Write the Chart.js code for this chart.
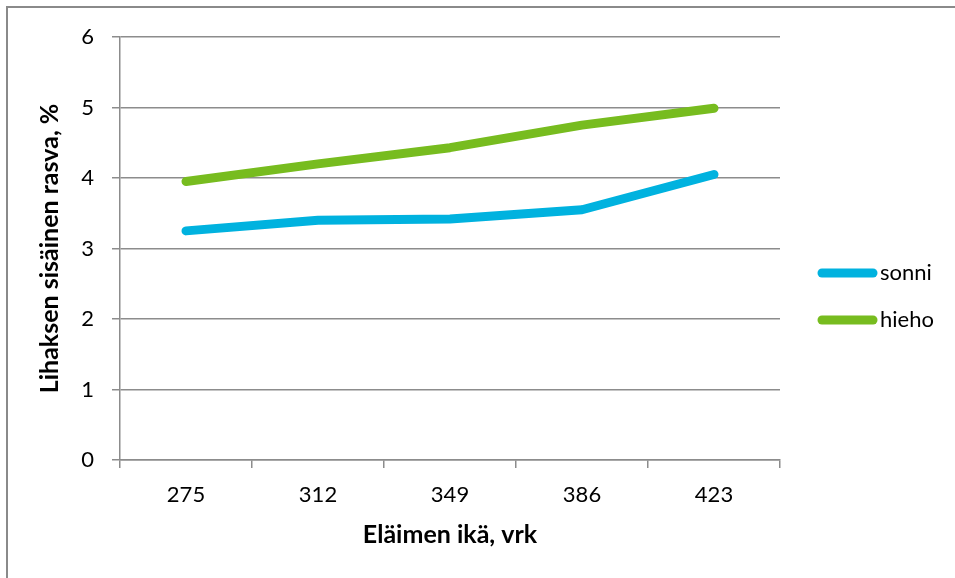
<!DOCTYPE html>
<html>
<head>
<meta charset="utf-8">
<title>Lihaksen sisäinen rasva</title>
<script src="https://cdn.jsdelivr.net/npm/chart.js@4"></script>
<style>
  html, body { margin: 0; padding: 0; background: #fff; }
  #wrap { position: relative; width: 955px; height: 578px; }
</style>
</head>
<body>
<div id="wrap"><canvas id="rasva-chart"></canvas></div>
<script>
// Ikä vuorokausina
const ages = ['275', '312', '349', '386', '423'];
// Lihaksen sisäinen rasva, %
const sonni = [3.25, 3.40, 3.42, 3.55, 4.05];
const hieho = [3.95, 4.20, 4.43, 4.75, 4.99];

const FONT = 'Lato, "Open Sans", sans-serif';
const GRID = '#8c8c8c';

// kehys vasemmalle ja ylös
const framePlugin = {
  id: 'frame',
  beforeDraw(chart) {
    const ctx = chart.ctx;
    ctx.save();
    ctx.strokeStyle = '#8a8a8a';
    ctx.lineWidth = 2;
    ctx.beginPath();
    ctx.moveTo(7, chart.height);
    ctx.lineTo(7, 7);
    ctx.lineTo(chart.width, 7);
    ctx.stroke();
    ctx.restore();
  }
};

// selite oikealla: viiva + nimi
const sideLegend = {
  id: 'sideLegend',
  afterDraw(chart, args, opts) {
    const ctx = chart.ctx;
    ctx.save();
    ctx.font = opts.font;
    ctx.textBaseline = 'middle';
    chart.data.datasets.forEach((ds, i) => {
      const y = opts.top + i * opts.step;
      ctx.strokeStyle = ds.borderColor;
      ctx.lineWidth = ds.borderWidth;
      ctx.lineCap = 'round';
      ctx.beginPath();
      ctx.moveTo(opts.x, y);
      ctx.lineTo(opts.x + opts.lineLen, y);
      ctx.stroke();
      ctx.fillStyle = '#000';
      ctx.fillText(ds.label, opts.x + opts.lineLen + 7, y);
    });
    ctx.restore();
  }
};

const ctx = document.getElementById('rasva-chart').getContext('2d');

new Chart(ctx, {
  type: 'line',
  data: {
    labels: ages,
    datasets: [
      { label: 'sonni', data: sonni, borderColor: '#00b2df', borderWidth: 9 },
      { label: 'hieho', data: hieho, borderColor: '#77bc1f', borderWidth: 9 }
    ]
  },
  options: {
    responsive: true,
    maintainAspectRatio: false,
    animation: false,
    layout: { padding: { top: 37, right: 175, left: 0, bottom: 0 } },
    elements: {
      point: { radius: 0, hoverRadius: 0 },
      line: { tension: 0, borderCapStyle: 'round', borderJoinStyle: 'round' }
    },
    plugins: {
      legend: { display: false },
      tooltip: { enabled: false },
      sideLegend: { x: 822, top: 273, step: 47, lineLen: 51, font: '22px ' + FONT }
    },
    scales: {
      x: {
        offset: true,
        afterFit: (axis) => { axis.height = 118; },
        grid: {
          offset: true,
          drawOnChartArea: false,
          color: GRID,
          lineWidth: 1.5,
          tickLength: 8
        },
        border: { color: GRID, width: 1.5 },
        ticks: {
          color: '#000',
          padding: 14,
          maxRotation: 0,
          font: { family: FONT, size: 22 }
        },
        title: {
          display: true,
          text: 'Eläimen ikä, vrk',
          color: '#000',
          font: { family: FONT, size: 25, weight: 'bold' },
          padding: { top: 0, bottom: 28 }
        }
      },
      y: {
        min: 0,
        max: 6,
        afterFit: (axis) => { axis.width = 120; },
        grid: { color: GRID, lineWidth: 1.5, tickLength: 8 },
        border: { color: GRID, width: 1.5 },
        ticks: {
          stepSize: 1,
          color: '#000',
          padding: 18,
          font: { family: FONT, size: 22 }
        },
        title: {
          display: true,
          text: 'Lihaksen sisäinen rasva, %',
          color: '#000',
          font: { family: FONT, size: 25, weight: 'bold' },
          padding: { top: 35, bottom: 0 }
        }
      }
    }
  },
  plugins: [framePlugin, sideLegend]
});
</script>
</body>
</html>
